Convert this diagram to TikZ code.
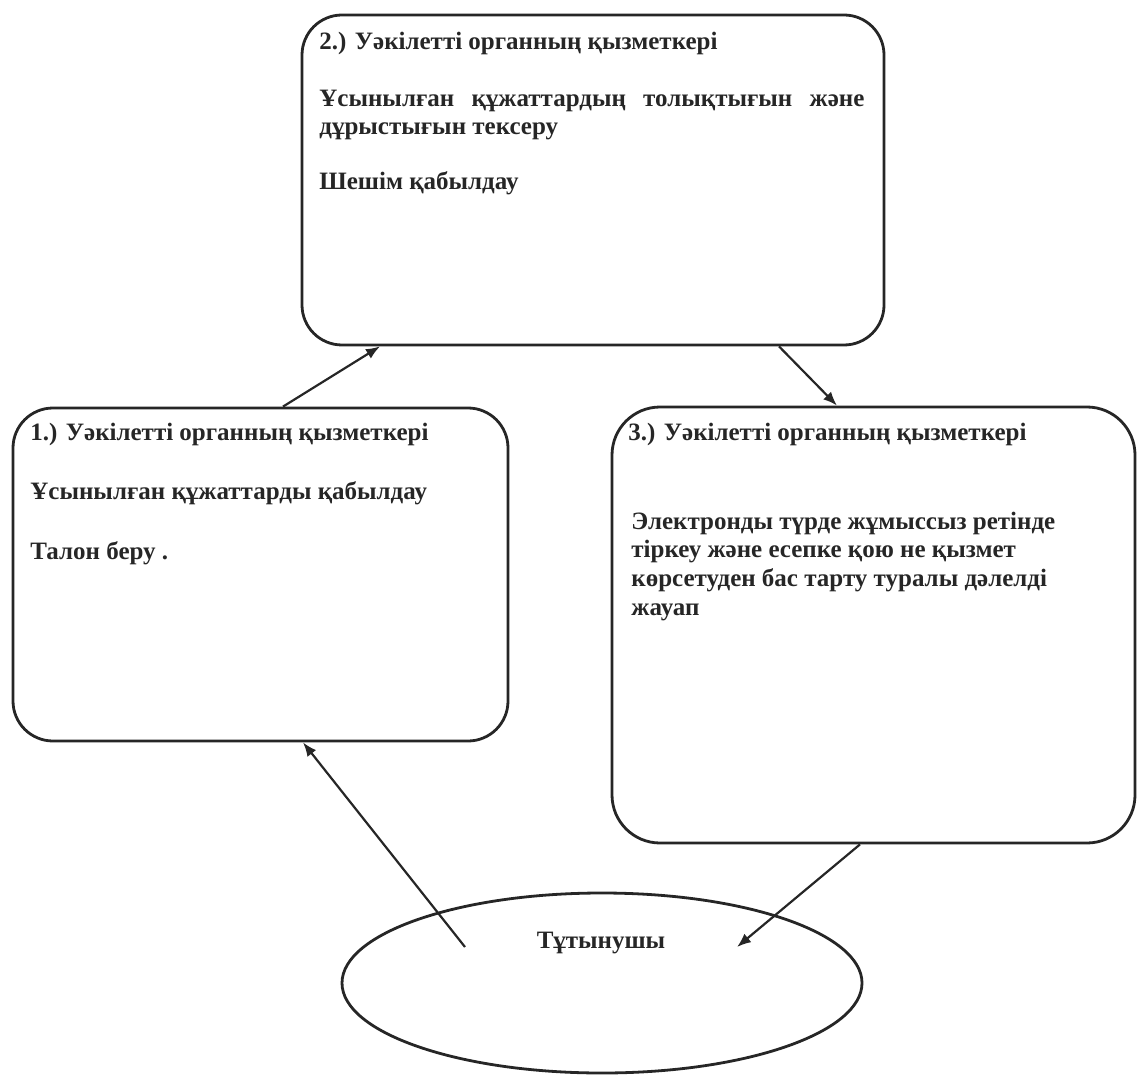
\documentclass[tikz,border=0pt]{standalone}
\usepackage{fontspec}
\setmainfont{Liberation Serif}
\usetikzlibrary{shapes.geometric,arrows.meta}

\begin{document}
\begin{tikzpicture}[x=0.5pt,y=-0.5pt]
	\tikzstyle{every node}=[font=\fontsize{12.5}{14.3}\selectfont\bfseries, text=black!85]
	\tikzstyle{kasten}=[draw=black!85, line width=1.4pt, rounded corners=20pt, inner sep=0pt]
	\tikzstyle{zeile}=[anchor=base west, inner sep=0pt]
	\tikzstyle{pfeil}=[draw=black!85, line width=1.1pt, -{Latex[length=7pt,width=5.5pt]}]
	
	\useasboundingbox (0,0) rectangle (1138,1074);
	
	%Kaesten und Ellipse
	\node[kasten, minimum width=291pt, minimum height=165pt] (b2) at (593,180) {};
	\node[kasten, minimum width=247.5pt, minimum height=166.5pt] (b1) at (260.5,574.5) {};
	\node[kasten, minimum width=261.5pt, minimum height=218pt, rounded corners=24pt] (b3) at (873.5,625) {};
	\node[draw=black!85, line width=1.4pt, ellipse, inner sep=0pt, minimum width=260pt, minimum height=90pt] (kunde) at (602,983) {};
	
	%Beschriftung Kasten 2
	\node[zeile] (t2a) at (319,50) {2.) Уәкілетті органның қызметкері};
	\node[zeile] (t2b) at (319,107) {\makebox[272.5pt][s]{Ұсынылған құжаттардың толықтығын және}};
	\node[zeile] (t2c) at (319,135) {дұрыстығын тексеру};
	\node[zeile] (t2d) at (319,190) {Шешім қабылдау};
	
	%Beschriftung Kasten 1
	\node[zeile] (t1a) at (30,440) {1.) Уәкілетті органның қызметкері};
	\node[zeile] (t1b) at (30,499) {Ұсынылған құжаттарды қабылдау};
	\node[zeile] (t1c) at (30,559) {Талон беру .};
	
	%Beschriftung Kasten 3 (base = letzte Zeile)
	\node[zeile] (t3a) at (628,440) {3.) Уәкілетті органның қызметкері};
	\node[zeile, align=left] (t3b) at (631,615) {Электронды түрде жұмыссыз ретінде\\ тіркеу және есепке қою не қызмет\\ көрсетуден бас тарту туралы дәлелді\\ жауап};
	
	\node[anchor=base, inner sep=0pt] (tk) at (601,948) {Тұтынушы};
	
	%Pfeile
	\coordinate (k1) at ([xshift=67.5pt, yshift=18pt]kunde.center);
	\coordinate (k2) at ([xshift=-68.5pt, yshift=18pt]kunde.center);
	\draw[pfeil] ([xshift=11.25pt]b1.north) -- ([xshift=-106.5pt]b2.south);
	\draw[pfeil] ([xshift=93pt]b2.south) -- ([xshift=-18.25pt]b3.north);
	\draw[pfeil] ([xshift=-6.75pt]b3.south) -- (k1);
	\draw[pfeil] (k2) -- ([xshift=21.25pt]b1.south);
\end{tikzpicture}
\end{document}
